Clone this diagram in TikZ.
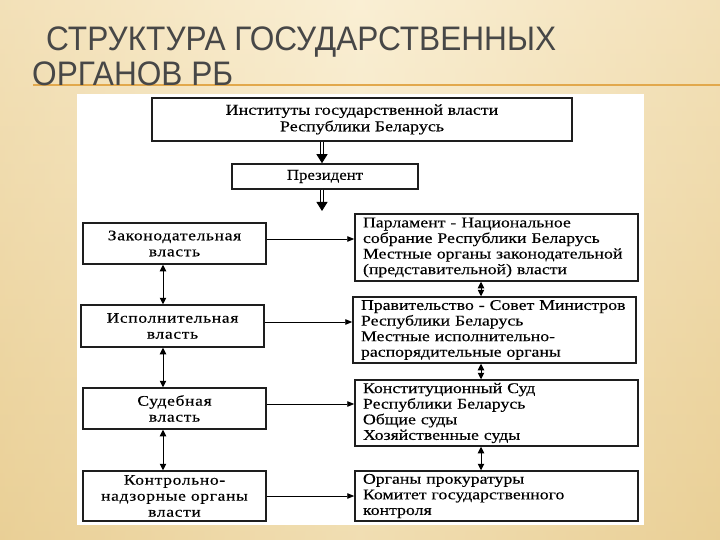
\documentclass[tikz,border=0pt]{standalone}
\usepackage{fontspec}
\setmainfont{Liberation Serif}
\newfontfamily\diagfont[FakeStretch=1.2,FakeBold=0.3]{Liberation Serif}
\newfontfamily\diagfontL[FakeStretch=1.2,FakeBold=0.3,LetterSpace=4.5]{Liberation Serif}
\newfontfamily\presfont[FakeStretch=1.12,FakeBold=0.3]{Liberation Serif}
\newfontfamily\titlefont[FakeStretch=0.93]{Liberation Sans}
\usetikzlibrary{arrows.meta,calc}
\definecolor{bgtop}{HTML}{FAEFD4}
\definecolor{bgbot}{HTML}{EBD39C}
\definecolor{bgedge}{HTML}{E8CB8E}
\definecolor{titlegray}{HTML}{474747}
\definecolor{rulecol}{HTML}{E2A84C}
\definecolor{boxline}{HTML}{1E1E1E}
\begin{document}
\begin{tikzpicture}[x=1pt,y=-1pt,
  box/.style={draw=boxline, line width=1.5pt, fill=white, inner sep=0pt},
  lbox/.style={box, align=center, minimum width=183pt,
    font=\diagfontL\fontsize{14.6}{16}\selectfont},
  rbox/.style={box, align=left, text width=267pt, inner xsep=8pt,
    font=\diagfont\fontsize{14.8}{15.6}\selectfont},
  cbox/.style={box, align=center, font=\diagfont\fontsize{15}{16.5}\selectfont},
  harrow/.style={draw=black, line width=0.9pt, -{Triangle[length=7pt,width=5.5pt]}},
  varrow/.style={draw=black, line width=0.9pt, {Triangle[length=6.5pt,width=6.5pt]}-{Triangle[length=6.5pt,width=6.5pt]}},
  dshaft/.style={draw=black, line width=0.9pt, double distance=2.2pt, shorten >=6pt},
  dtip/.style={draw=black, line width=0.9pt, -{Triangle[length=9pt,width=11pt]}},
  titletext/.style={font=\titlefont\fontsize{34}{34}\selectfont, text=titlegray, inner sep=0pt}
]
\useasboundingbox (0,0) rectangle (720,540);
% background
\shade[left color=bgedge, right color=bgedge, middle color=bgtop] (0,0) rectangle (720,540);
\shade[top color=bgtop, bottom color=bgbot, opacity=0.6] (0,0) rectangle (720,540);
% title
\draw[rulecol, line width=1.5pt] (33,85) -- (720,85);
\node[titletext, anchor=base west] (t1) at (46,51) {СТРУКТУРА ГОСУДАРСТВЕННЫХ};
\node[titletext, anchor=base west] (t2) at (32,86) {ОРГАНОВ РБ};
% white panel
\fill[white] (77,94) rectangle (644,525);
% nodes
\node[cbox, minimum width=420pt, minimum height=43pt] (top) at (362,119.5)
  {Институты государственной власти\\Республики Беларусь};
\node[cbox, font=\presfont\fontsize{15}{16.5}\selectfont, minimum width=186pt, minimum height=25pt] (pres) at (325,176.5) {Президент};
\node[lbox, minimum height=41pt] (zak) at (174.5,243.5) {Законодательная\\власть};
\node[lbox, minimum height=42pt] (isp) at (172.5,326) {Исполнительная\\власть};
\node[lbox, minimum height=41pt] (sud) at (174.5,408.5) {Судебная\\власть};
\node[lbox, minimum height=50pt] (kon) at (174.5,496) {Контрольно-\\надзорные органы\\власти};
\node[rbox, minimum height=67pt] (parl) at (496.5,247.5)
  {Парламент - Национальное\\собрание Республики Беларусь\\Местные органы законодательной\\(представительной) власти};
\node[rbox, minimum height=66pt] (prav) at (494.5,330)
  {Правительство - Совет Министров\\Республики Беларусь\\Местные исполнительно-\\распорядительные органы};
\node[rbox, minimum height=66pt] (ksud) at (496.5,413)
  {Конституционный Суд\\Республики Беларусь\\Общие суды\\Хозяйственные суды};
\node[rbox, minimum height=50pt] (prok) at (496.5,496)
  {Органы прокуратуры\\Комитет государственного\\контроля};
% helper coordinates
\coordinate (ax) at (322,0);
\coordinate (lx) at (163,0);
\coordinate (rx) at (481,0);
\coordinate (split) at (322,211);
% double arrows from top
\draw[dshaft] (top.south -| ax) -- (pres.north -| ax);
\draw[dtip, shorten <=12pt] (top.south -| ax) -- (pres.north -| ax);
\draw[dshaft] (pres.south -| ax) -- (split);
\draw[dtip, shorten <=12pt] (pres.south -| ax) -- (split);
% horizontal arrows
\path ([yshift=4.5pt]zak.east) coordinate (h1);
\path ([yshift=4pt]isp.east) coordinate (h2);
\path ([yshift=4.5pt]sud.east) coordinate (h3);
\path (kon.east) coordinate (h4);
\draw[harrow] (h1) -- (h1 -| parl.west);
\draw[harrow] (h2) -- (h2 -| prav.west);
\draw[harrow] (h3) -- (h3 -| ksud.west);
\draw[harrow] (h4) -- (h4 -| prok.west);
% vertical arrows left
\draw[varrow] (zak.south -| lx) -- (isp.north -| lx);
\draw[varrow] (isp.south -| lx) -- (sud.north -| lx);
\draw[varrow] (sud.south -| lx) -- (kon.north -| lx);
% vertical arrows right
\draw[varrow] (parl.south -| rx) -- (prav.north -| rx);
\draw[varrow] (prav.south -| rx) -- (ksud.north -| rx);
\draw[varrow] (ksud.south -| rx) -- (prok.north -| rx);
\end{tikzpicture}
\end{document}
